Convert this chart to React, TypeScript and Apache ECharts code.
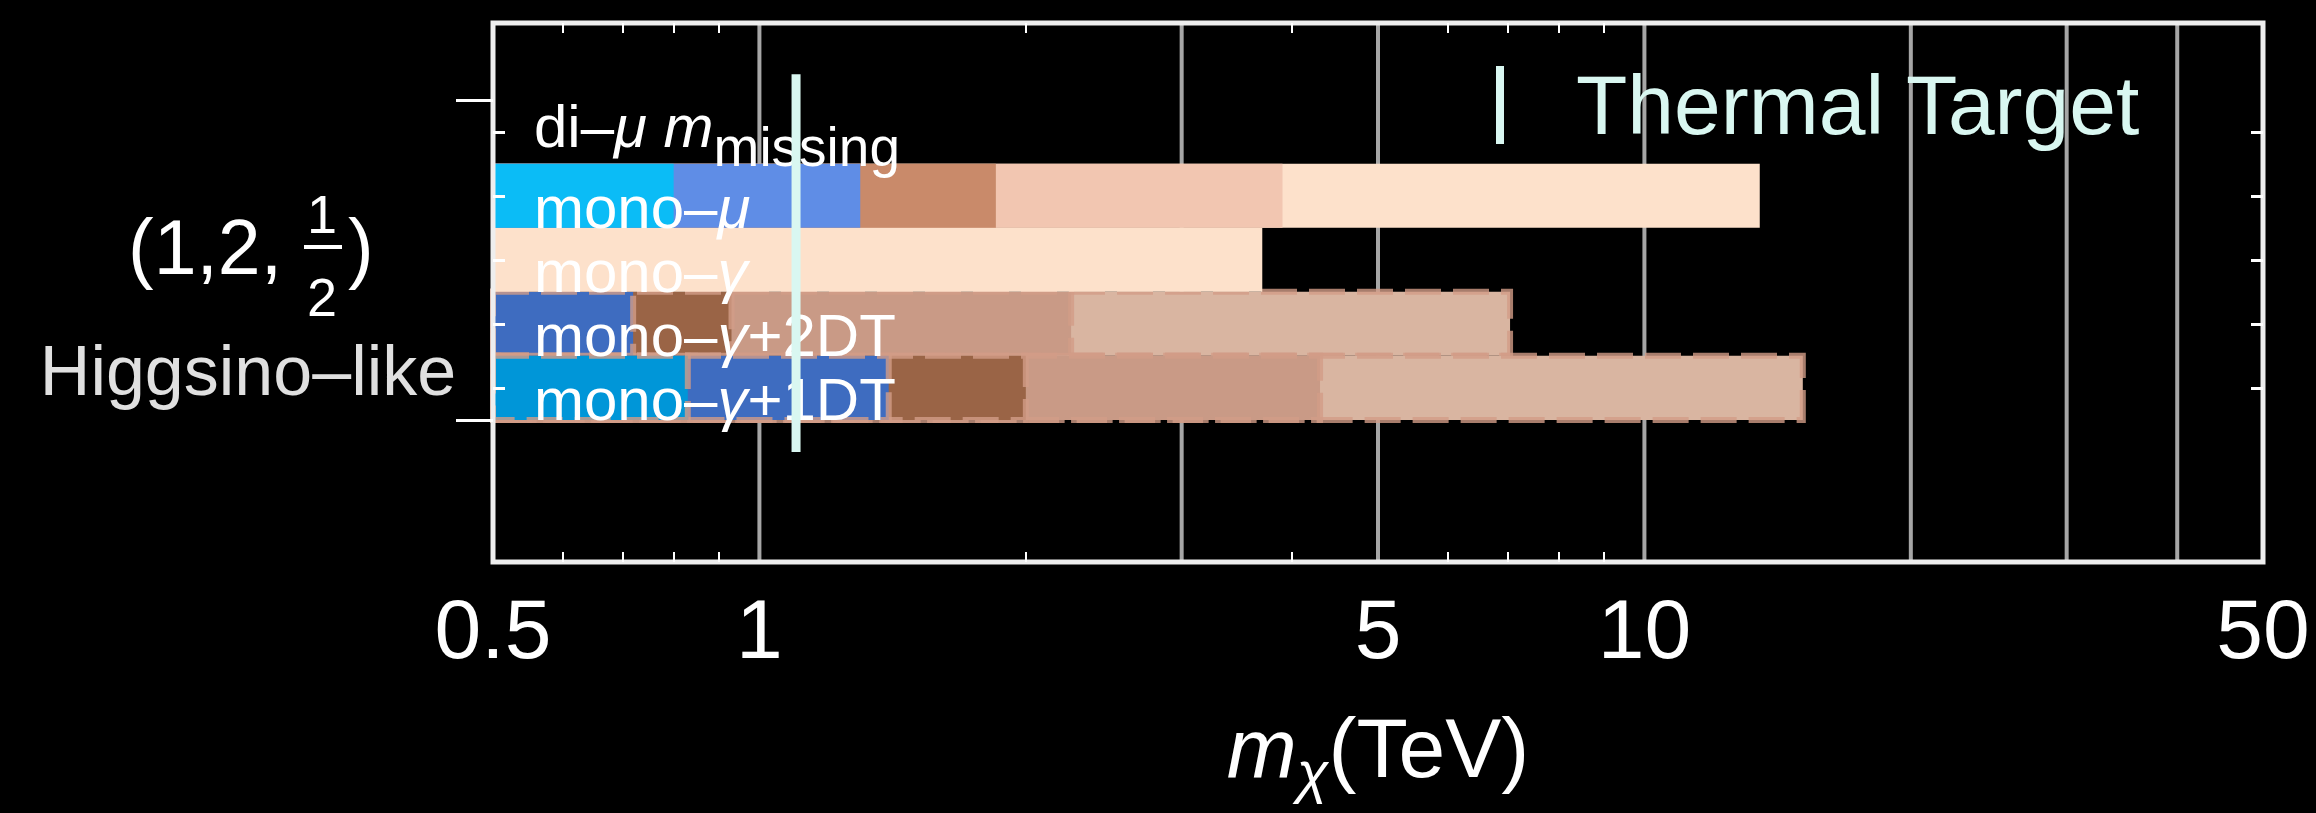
import React, { useEffect, useRef } from 'react';
import * as echarts from 'echarts';

// ---------- data ----------
const rowLabels = [
  '{a|di–}{b|μ m}{s|missing}',
  '{n|mono–}{i|μ}',
  '{n|mono–}{i|γ}',
  '{n|mono–}{i|γ}{n|+2DT}',
  '{n|mono–}{i|γ}{n|+1DT}',
];
const rowPositions = [5, 4, 3, 2, 1];
const monoMuReach = [0.8, 1.3, 1.85, 3.9, 13.5];
const monoGammaReach = [3.7];
const monoGamma2DTReach = [0.72, 0.93, 2.25, 7.05];
const monoGamma1DTReach = [0.83, 1.4, 2.0, 4.3, 15.1];
const thermalTarget = 1.1;
const thermalSpan = [0, 5.9];
const massRange = [0.5, 50];
const rowRange = [-1.72, 6.7];
const xLabelValues = [0.5, 1, 5, 10, 50];
const xMinorTicks = [0.6, 0.7, 0.8, 0.9, 2, 4, 6, 7, 8, 9];
const xGridValues = [1, 3, 5, 10, 20, 30, 40];
const rowTicks = [1, 2, 3, 4, 5];
const rowBoundTicks = [0.5, 5.5];

// ---------- styles ----------
const FONT = "'Liberation Sans', Arial, Helvetica, sans-serif";
const monoMuColors = ['#0bbcf6', '#5f8de6', '#c98a6a', '#f2c6b1', '#fde1cb'];
const monoGammaColors = ['#fde1cb'];
const dt2Colors = ['#3e6cc0', '#9a6446', '#c99a86', '#d9b5a1'];
const dt1Colors = ['#0096d8', '#3e6cc0', '#9a6446', '#c99a86', '#d9b5a1'];
const thermalColor = '#d9f7f1';

const barGroups = [
  { row: rowPositions[3], reach: monoGamma2DTReach, colors: dt2Colors, dashed: true },
  { row: rowPositions[4], reach: monoGamma1DTReach, colors: dt1Colors, dashed: true },
  { row: rowPositions[2], reach: monoGammaReach, colors: monoGammaColors, dashed: false },
  { row: rowPositions[1], reach: monoMuReach, colors: monoMuColors, dashed: false },
];

const barData: number[][] = [];
barGroups.forEach((g, gi) => {
  const order = g.reach.map((_, si) => si).sort((a, b) => g.reach[b] - g.reach[a]);
  order.forEach((si) => barData.push([massRange[0], g.reach[si], g.row, gi, si]));
});

const labelRich = {
  n: { fontSize: 60, fontFamily: FONT, fill: '#ffffff', lineHeight: 60 },
  i: { fontSize: 60, fontFamily: FONT, fontStyle: 'italic', fill: '#ffffff', lineHeight: 60 },
  a: { fontSize: 60, fontFamily: FONT, fill: '#ffffff', lineHeight: 60, padding: [0, 0, 18, 0], verticalAlign: 'bottom' },
  b: { fontSize: 60, fontFamily: FONT, fontStyle: 'italic', fill: '#ffffff', lineHeight: 60, padding: [0, 0, 18, 0], verticalAlign: 'bottom' },
  s: { fontSize: 55, fontFamily: FONT, fill: '#ffffff', lineHeight: 55, verticalAlign: 'bottom' },
};

const tickFmt = (v: any) => String(+(+v).toPrecision(3));

const option: any = {
  animation: false,
  backgroundColor: '#000000',
  textStyle: { fontFamily: FONT },
  grid: {
    left: 493, right: 53, top: 23, bottom: 251,
    show: true, borderColor: '#eeeeee', borderWidth: 5,
    backgroundColor: 'transparent', containLabel: false, outerBoundsMode: 'none', z: 20,
  },
  legend: {
    show: true,
    data: [{ name: 'Thermal Target', icon: 'rect' }],
    left: 1496, top: 63, padding: 0,
    itemWidth: 8, itemHeight: 78,
    selectedMode: false,
    itemStyle: { color: thermalColor, borderWidth: 0 },
    textStyle: { color: thermalColor, fontSize: 84, fontFamily: FONT, padding: [0, 0, 18, 67] },
  },
  xAxis: [
    {
      type: 'log', logBase: 10, min: massRange[0], max: massRange[1], position: 'bottom', z: 20,
      axisLine: { show: false, onZero: false },
      axisTick: { show: true, inside: true, length: 10, customValues: xMinorTicks, lineStyle: { color: '#ffffff', width: 2 } },
      minorTick: { show: false },
      splitLine: { show: false },
      axisLabel: {
        show: true, customValues: xLabelValues, color: '#ffffff', fontSize: 84, fontFamily: FONT,
        margin: 25, formatter: tickFmt,
      },
      name: '{m|m}{s|χ}{n|(TeV)}',
      nameLocation: 'middle',
      nameGap: 154,
      nameTextStyle: {
        rich: {
          m: { fontSize: 84, fontStyle: 'italic', fontFamily: FONT, color: '#ffffff', lineHeight: 84, padding: [0, 0, 10, 0], verticalAlign: 'bottom' },
          s: { fontSize: 58, fontStyle: 'italic', fontFamily: FONT, color: '#ffffff', lineHeight: 58, verticalAlign: 'bottom' },
          n: { fontSize: 84, fontFamily: FONT, color: '#ffffff', lineHeight: 84, padding: [0, 0, 10, 0], verticalAlign: 'bottom' },
        },
      },
    },
    {
      type: 'log', logBase: 10, min: massRange[0], max: massRange[1], position: 'top', z: 20,
      axisLine: { show: false, onZero: false },
      axisTick: { show: true, inside: true, length: 10, customValues: xMinorTicks, lineStyle: { color: '#ffffff', width: 2 } },
      minorTick: { show: false },
      splitLine: { show: false },
      axisLabel: { show: false },
    },
  ],
  yAxis: [
    {
      type: 'value', min: rowRange[0], max: rowRange[1], position: 'left', z: 20,
      axisLine: { show: false, onZero: false }, axisLabel: { show: false }, splitLine: { show: false },
      axisTick: { show: true, inside: true, length: 12, customValues: rowTicks, lineStyle: { color: '#ffffff', width: 3 } },
    },
    {
      type: 'value', min: rowRange[0], max: rowRange[1], position: 'left', z: 20,
      axisLine: { show: false, onZero: false }, axisLabel: { show: false }, splitLine: { show: false },
      axisTick: { show: true, inside: false, length: 37, customValues: rowBoundTicks, lineStyle: { color: '#ffffff', width: 3 } },
    },
    {
      type: 'value', min: rowRange[0], max: rowRange[1], position: 'right', z: 20,
      axisLine: { show: false, onZero: false }, axisLabel: { show: false }, splitLine: { show: false },
      axisTick: { show: true, inside: true, length: 12, customValues: rowTicks, lineStyle: { color: '#ffffff', width: 3 } },
    },
  ],
  series: [
    {
      type: 'custom',
      name: 'gridlines',
      z: 1,
      silent: true,
      xAxisIndex: 0, yAxisIndex: 0,
      dimensions: ['v', 'y'],
      encode: { x: 'v', y: 'y' },
      data: xGridValues.map((v) => [v, rowRange[0]]),
      renderItem: (params: any, api: any) => {
        const v = api.value(0);
        const a = api.coord([v, rowRange[0]]);
        const b = api.coord([v, rowRange[1]]);
        return {
          type: 'line',
          shape: { x1: a[0], y1: a[1], x2: b[0], y2: b[1] },
          style: { stroke: '#a6a6a6', lineWidth: 4 },
        };
      },
    },
    {
      type: 'custom',
      name: 'reach',
      z: 2,
      silent: true,
      xAxisIndex: 0, yAxisIndex: 0,
      dimensions: ['start', 'end', 'row', 'group', 'seg'],
      encode: { x: ['start', 'end'], y: 'row' },
      data: barData,
      renderItem: (params: any, api: any) => {
        const x0 = api.value(0);
        const x1 = api.value(1);
        const r = api.value(2);
        const g = barGroups[api.value(3)];
        const si = api.value(4);
        const tl = api.coord([x0, r + 0.5]);
        const br = api.coord([x1, r - 0.5]);
        const style: any = { fill: g.colors[si] };
        if (g.dashed) {
          style.stroke = 'rgba(210,156,135,0.8)';
          style.lineWidth = 6;
          style.lineDash = [36, 12];
        }
        return {
          type: 'rect',
          shape: { x: tl[0], y: tl[1], width: br[0] - tl[0], height: br[1] - tl[1] },
          style,
        };
      },
    },
    {
      type: 'custom',
      name: 'labels',
      z: 5,
      silent: true,
      xAxisIndex: 0, yAxisIndex: 0,
      dimensions: ['x', 'row', 'idx'],
      encode: { x: 'x', y: 'row' },
      data: rowPositions.map((r, i) => [massRange[0], r, i]),
      renderItem: (params: any, api: any) => {
        const i = api.value(2);
        const p = api.coord([api.value(0), api.value(1)]);
        const dy = i === 0 ? 13 : 12;
        return {
          type: 'text',
          x: p[0] + 41,
          y: p[1] + dy,
          style: {
            text: rowLabels[i],
            rich: labelRich,
            fill: '#ffffff',
            fontSize: 60,
            fontFamily: FONT,
            align: 'left',
            verticalAlign: 'middle',
          },
        };
      },
    },
    {
      type: 'line',
      name: 'Thermal Target',
      z: 10,
      silent: true,
      xAxisIndex: 0, yAxisIndex: 0,
      symbol: 'none',
      data: thermalSpan.map((y) => [thermalTarget, y]),
      lineStyle: { color: thermalColor, width: 9, cap: 'butt' },
      itemStyle: { color: thermalColor },
    },
  ],
  graphic: [
    { type: 'text', x: 128, y: 247, z: 100, style: { text: '(1,2,', fontSize: 77, lineHeight: 60, fontFamily: FONT, fill: '#ffffff', align: 'left', verticalAlign: 'middle' } },
    { type: 'text', x: 322, y: 214, z: 100, style: { text: '1', fontSize: 54, lineHeight: 42, fontFamily: FONT, fill: '#ffffff', align: 'center', verticalAlign: 'middle' } },
    { type: 'line', z: 100, shape: { x1: 304, y1: 247, x2: 342, y2: 247 }, style: { stroke: '#ffffff', lineWidth: 4 } },
    { type: 'text', x: 322, y: 297, z: 100, style: { text: '2', fontSize: 54, lineHeight: 42, fontFamily: FONT, fill: '#ffffff', align: 'center', verticalAlign: 'middle' } },
    { type: 'text', x: 348, y: 247, z: 100, style: { text: ')', fontSize: 77, lineHeight: 60, fontFamily: FONT, fill: '#ffffff', align: 'left', verticalAlign: 'middle' } },
    { type: 'text', x: 248, y: 371, z: 100, style: { text: 'Higgsino–like', fontSize: 70, lineHeight: 54, fontFamily: FONT, fill: '#e0e0e0', align: 'center', verticalAlign: 'middle' } },
  ],
};

export default function App() {
  const ref = useRef<HTMLDivElement>(null);
  useEffect(() => {
    if (!ref.current) return;
    const chart = echarts.init(ref.current, null, { renderer: 'svg' });
    chart.setOption(option);
    return () => chart.dispose();
  }, []);
  return (
    <div
      ref={ref}
      style={{ position: 'fixed', left: 0, top: 0, width: 2316, height: 813, background: '#000000' }}
    />
  );
}
